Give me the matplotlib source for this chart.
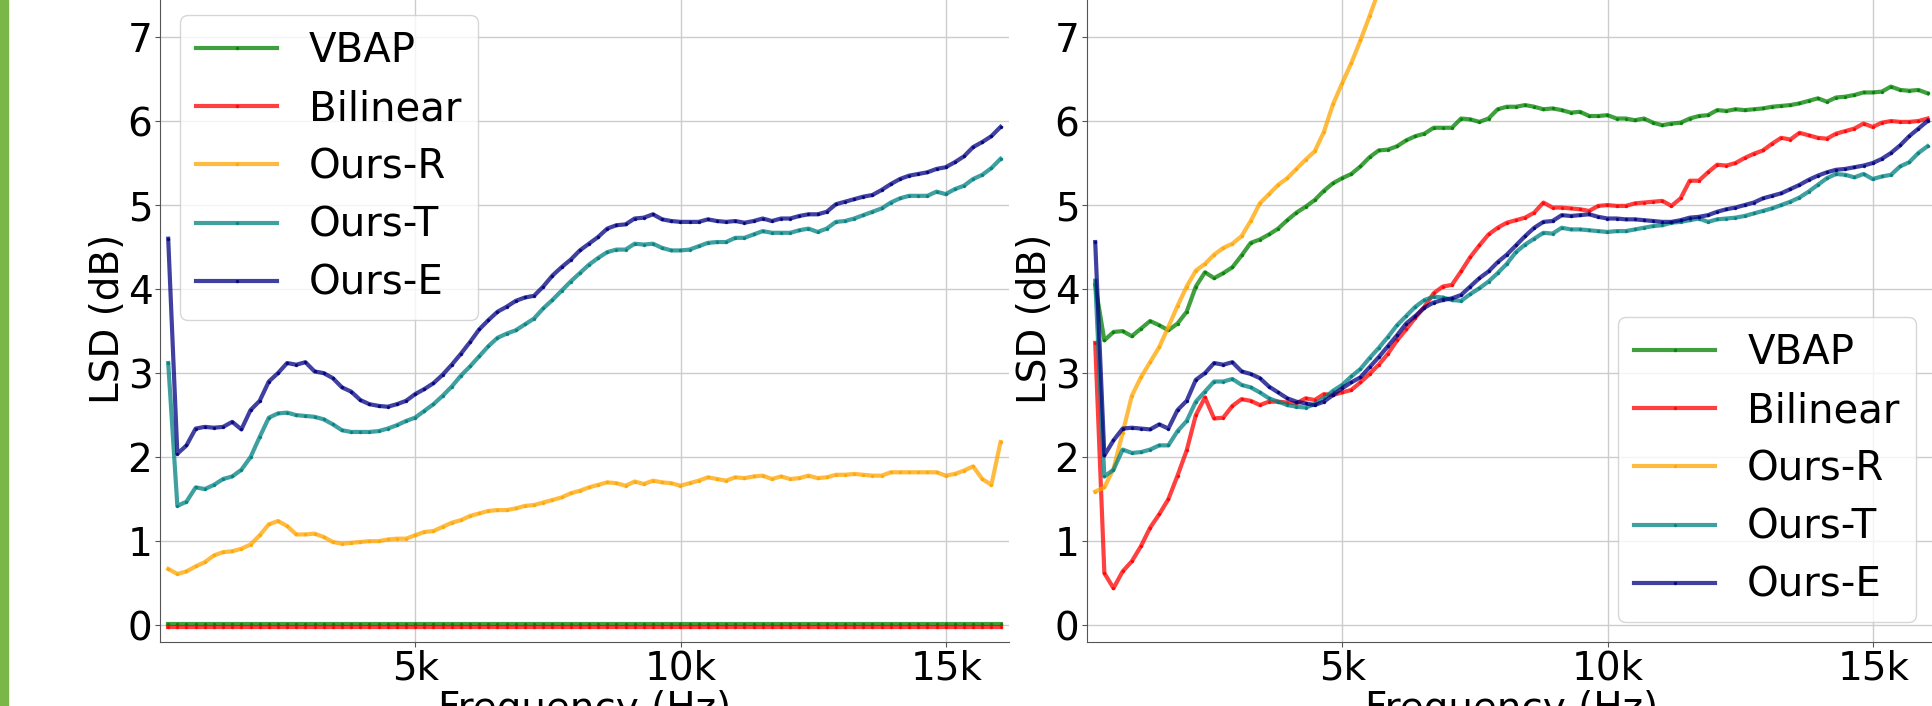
import numpy as np
import matplotlib
matplotlib.use('Agg')
from matplotlib import pyplot as plt
from matplotlib.patches import Rectangle
from matplotlib.ticker import FixedLocator, FuncFormatter

# STFT bin centres (n_fft = 256 at 44.1 kHz), bins 2..93
freq = np.arange(2, 94) * 44100 / 256

# ---- left panel ----
vbap_left = np.full(len(freq), 0.02)
bilinear_left = np.full(len(freq), -0.02)
ours_r_left = [
    0.67, 0.61, 0.64, 0.70, 0.75, 0.83, 0.87, 0.88, 0.91, 0.96,
    1.07, 1.20, 1.24, 1.18, 1.08, 1.08, 1.09, 1.05, 0.99, 0.97,
    0.98, 0.99, 1.00, 1.00, 1.02, 1.03, 1.03, 1.07, 1.11, 1.12,
    1.17, 1.22, 1.25, 1.30, 1.33, 1.36, 1.37, 1.37, 1.39, 1.42,
    1.43, 1.46, 1.49, 1.52, 1.57, 1.60, 1.64, 1.67, 1.70, 1.69,
    1.66, 1.71, 1.68, 1.72, 1.70, 1.69, 1.66, 1.69, 1.72, 1.76,
    1.74, 1.72, 1.76, 1.75, 1.77, 1.78, 1.74, 1.77, 1.74, 1.75,
    1.78, 1.75, 1.76, 1.79, 1.79, 1.80, 1.79, 1.78, 1.78, 1.82,
    1.82, 1.82, 1.82, 1.82, 1.82, 1.78, 1.80, 1.84, 1.89, 1.74,
    1.67, 2.18]
ours_t_left = [
    3.12, 1.42, 1.47, 1.64, 1.62, 1.67, 1.74, 1.77, 1.85, 2.00,
    2.24, 2.47, 2.52, 2.53, 2.50, 2.49, 2.48, 2.45, 2.39, 2.32,
    2.30, 2.30, 2.30, 2.31, 2.34, 2.38, 2.43, 2.47, 2.55, 2.63,
    2.73, 2.84, 2.97, 3.08, 3.20, 3.32, 3.42, 3.47, 3.51, 3.58,
    3.65, 3.77, 3.87, 3.98, 4.09, 4.19, 4.29, 4.37, 4.44, 4.47,
    4.47, 4.54, 4.53, 4.54, 4.49, 4.46, 4.46, 4.47, 4.51, 4.55,
    4.56, 4.56, 4.61, 4.61, 4.65, 4.69, 4.67, 4.67, 4.67, 4.70,
    4.72, 4.68, 4.72, 4.80, 4.81, 4.84, 4.88, 4.92, 4.96, 5.03,
    5.08, 5.11, 5.11, 5.11, 5.16, 5.13, 5.19, 5.23, 5.31, 5.36,
    5.44, 5.55]
ours_e_left = [
    4.60, 2.04, 2.14, 2.34, 2.36, 2.35, 2.36, 2.42, 2.33, 2.56,
    2.67, 2.90, 3.00, 3.12, 3.10, 3.13, 3.02, 3.00, 2.94, 2.83,
    2.78, 2.68, 2.63, 2.61, 2.60, 2.63, 2.67, 2.75, 2.81, 2.88,
    2.98, 3.10, 3.23, 3.37, 3.52, 3.63, 3.73, 3.79, 3.86, 3.90,
    3.92, 4.03, 4.16, 4.26, 4.35, 4.46, 4.54, 4.62, 4.72, 4.76,
    4.77, 4.84, 4.85, 4.89, 4.83, 4.81, 4.80, 4.80, 4.80, 4.83,
    4.81, 4.80, 4.81, 4.79, 4.81, 4.84, 4.81, 4.84, 4.84, 4.87,
    4.89, 4.89, 4.92, 5.01, 5.04, 5.07, 5.10, 5.12, 5.18, 5.25,
    5.31, 5.35, 5.37, 5.39, 5.43, 5.45, 5.51, 5.58, 5.69, 5.75,
    5.82, 5.93]

# ---- right panel ----
vbap_right = [
    4.05, 3.39, 3.49, 3.50, 3.44, 3.53, 3.62, 3.57, 3.51, 3.59,
    3.73, 4.03, 4.20, 4.13, 4.19, 4.26, 4.40, 4.55, 4.59, 4.65,
    4.72, 4.82, 4.91, 4.98, 5.06, 5.17, 5.26, 5.32, 5.37, 5.46,
    5.57, 5.65, 5.66, 5.70, 5.77, 5.82, 5.85, 5.92, 5.92, 5.92,
    6.03, 6.02, 5.99, 6.03, 6.14, 6.17, 6.17, 6.19, 6.17, 6.14,
    6.15, 6.13, 6.10, 6.11, 6.06, 6.06, 6.07, 6.03, 6.03, 6.01,
    6.03, 5.98, 5.95, 5.97, 5.98, 6.03, 6.06, 6.07, 6.13, 6.12,
    6.14, 6.13, 6.14, 6.15, 6.17, 6.18, 6.19, 6.21, 6.24, 6.27,
    6.23, 6.28, 6.29, 6.31, 6.34, 6.34, 6.35, 6.41, 6.37, 6.36,
    6.37, 6.33]
bilinear_right = [
    3.36, 0.62, 0.44, 0.64, 0.76, 0.94, 1.16, 1.32, 1.50, 1.78,
    2.08, 2.50, 2.71, 2.46, 2.47, 2.61, 2.69, 2.67, 2.62, 2.66,
    2.66, 2.65, 2.64, 2.70, 2.68, 2.75, 2.74, 2.77, 2.80, 2.89,
    2.99, 3.10, 3.23, 3.39, 3.52, 3.66, 3.79, 3.95, 4.03, 4.05,
    4.21, 4.38, 4.52, 4.65, 4.73, 4.79, 4.82, 4.85, 4.91, 5.03,
    4.97, 4.97, 4.96, 4.95, 4.93, 4.99, 5.00, 4.99, 4.99, 5.02,
    5.03, 5.04, 5.05, 4.99, 5.08, 5.29, 5.29, 5.39, 5.48, 5.47,
    5.50, 5.56, 5.61, 5.65, 5.73, 5.80, 5.78, 5.86, 5.83, 5.80,
    5.79, 5.85, 5.88, 5.91, 5.97, 5.93, 5.98, 6.00, 5.99, 5.99,
    6.00, 6.03]
# Ours-R leaves the plotted range above ~5.7 kHz
ours_r_right = [
    1.59, 1.64, 1.86, 2.29, 2.73, 2.95, 3.13, 3.31, 3.55, 3.80,
    4.03, 4.22, 4.30, 4.41, 4.49, 4.54, 4.63, 4.81, 5.02, 5.13,
    5.24, 5.32, 5.43, 5.54, 5.64, 5.87, 6.20, 6.45, 6.69, 6.96,
    7.25, 7.55, 7.85]
ours_t_right = [
    4.10, 1.77, 1.85, 2.09, 2.05, 2.06, 2.09, 2.14, 2.14, 2.31,
    2.43, 2.66, 2.78, 2.90, 2.90, 2.93, 2.86, 2.83, 2.77, 2.70,
    2.66, 2.62, 2.60, 2.59, 2.63, 2.70, 2.79, 2.86, 2.96, 3.05,
    3.18, 3.30, 3.43, 3.57, 3.68, 3.79, 3.87, 3.91, 3.90, 3.87,
    3.86, 3.94, 4.01, 4.09, 4.19, 4.30, 4.44, 4.53, 4.60, 4.67,
    4.66, 4.73, 4.71, 4.71, 4.70, 4.69, 4.68, 4.69, 4.69, 4.71,
    4.73, 4.75, 4.76, 4.79, 4.80, 4.82, 4.84, 4.80, 4.83, 4.84,
    4.85, 4.87, 4.90, 4.93, 4.96, 5.00, 5.04, 5.09, 5.16, 5.24,
    5.32, 5.37, 5.36, 5.33, 5.37, 5.31, 5.34, 5.36, 5.46, 5.51,
    5.62, 5.70]
ours_e_right = [
    4.56, 2.02, 2.20, 2.34, 2.35, 2.34, 2.33, 2.39, 2.34, 2.56,
    2.67, 2.92, 3.00, 3.12, 3.10, 3.13, 3.02, 2.99, 2.94, 2.84,
    2.77, 2.70, 2.66, 2.64, 2.62, 2.66, 2.74, 2.82, 2.89, 2.95,
    3.07, 3.19, 3.32, 3.45, 3.59, 3.68, 3.78, 3.84, 3.87, 3.89,
    3.93, 4.03, 4.13, 4.21, 4.32, 4.41, 4.52, 4.63, 4.73, 4.80,
    4.81, 4.88, 4.87, 4.88, 4.89, 4.86, 4.84, 4.84, 4.83, 4.83,
    4.82, 4.81, 4.80, 4.80, 4.82, 4.85, 4.86, 4.88, 4.92, 4.95,
    4.97, 5.00, 5.03, 5.08, 5.11, 5.14, 5.19, 5.24, 5.30, 5.35,
    5.39, 5.42, 5.43, 5.45, 5.47, 5.50, 5.55, 5.62, 5.71, 5.82,
    5.91, 6.00]

labels = ['VBAP', 'Bilinear', 'Ours-R', 'Ours-T', 'Ours-E']
colors = ['green', 'red', 'orange', 'teal', 'navy']
xticks = [5000, 10000, 15000]

FS = 28
plt.rcParams['font.family'] = 'DejaVu Sans'
plt.rcParams['font.size'] = FS

W, H = 1933, 706
fig = plt.figure(figsize=(W / 100, H / 100), dpi=100)

# thin accent strip on the left edge
fig.patches.append(Rectangle((0, 0), 8 / W, 1, transform=fig.transFigure,
                             color='#7ab648', zorder=0))

ax_l = fig.add_axes([160 / W, 64 / H, 849 / W, 647 / H])
ax_r = fig.add_axes([1087 / W, 64 / H, 849 / W, 647 / H])

panels = [
    (ax_l, [vbap_left, bilinear_left, ours_r_left, ours_t_left, ours_e_left], 'upper left'),
    (ax_r, [vbap_right, bilinear_right, ours_r_right, ours_t_right, ours_e_right], 'lower right'),
]

for ax, series, loc in panels:
    for y, lab, c in zip(series, labels, colors):
        ax.plot(freq[:len(y)], y, color=c, alpha=0.75, lw=3,
                marker='.', markersize=3, label=lab)
    ax.set_xlim(190, 16180)
    ax.set_ylim(-0.2, 7.5)
    ax.xaxis.set_major_locator(FixedLocator(xticks))
    ax.xaxis.set_major_formatter(FuncFormatter(lambda v, p: '%dk' % (v / 1000)))
    ax.set_yticks(range(0, 8))
    ax.grid(True, color='#cccccc', lw=1)
    ax.set_axisbelow(True)
    for s in ['top', 'right']:
        ax.spines[s].set_visible(False)
    for s in ['left', 'bottom']:
        ax.spines[s].set_color('#555555')
    ax.tick_params(colors='#555555', labelcolor='black', labelsize=FS, pad=2)
    ax.set_xlabel('Frequency (Hz)', fontsize=FS, labelpad=2)
    ax.set_ylabel('LSD (dB)', fontsize=FS, labelpad=0)
    ax.legend(loc=loc, fontsize=29, labelspacing=0.45)

fig.savefig('out.png', dpi=100)
